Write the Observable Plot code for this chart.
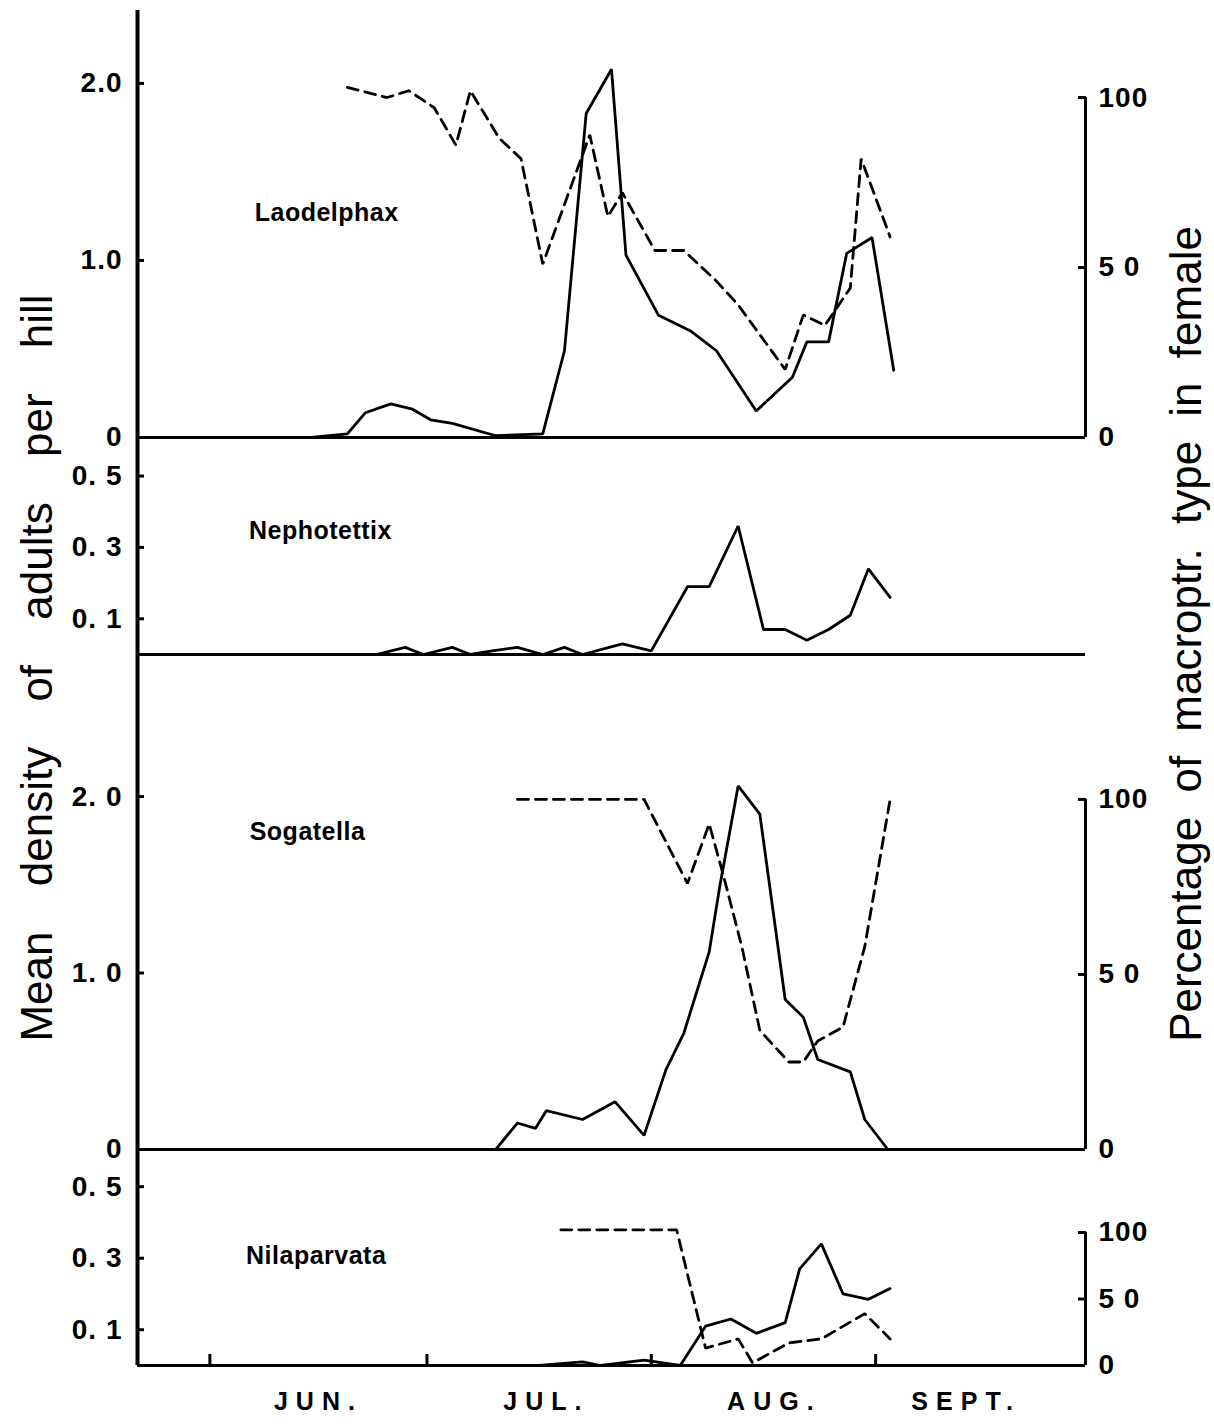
<!DOCTYPE html>
<html>
<head>
<meta charset="utf-8">
<script src="https://cdn.jsdelivr.net/npm/d3@7"></script>
<script src="https://cdn.jsdelivr.net/npm/@observablehq/plot@0.6"></script>
<style>
  html, body { margin: 0; padding: 0; background: #fff; overflow: hidden; }
  #fig { position: relative; width: 1214px; height: 1424px; background: #fff; }
  #fig svg { overflow: visible; }
  .panel g[aria-label="text"] text { letter-spacing: 0.5px; }
  .panel g[aria-label="y-axis tick label"] text { letter-spacing: 1px; }
  .panel g[aria-label="x-axis tick label"] text { letter-spacing: 8px; }
</style>
</head>
<body>
<div id="fig"></div>
<script>
// ---------------- DATA (x = days after 1 June) ----------------
// Laodelphax
const laoDays    = [-10, 14, 19, 21.5, 25, 28, 30.5, 33.5, 39.5, 46, 49, 52, 55.5, 57.5, 62, 66.5, 70, 75.5, 80.5, 82.5, 85.5, 88, 91.5, 94.5];
const laoDensity = [0, 0, 0.02, 0.14, 0.19, 0.16, 0.10, 0.08, 0.01, 0.02, 0.49, 1.83, 2.08, 1.03, 0.69, 0.60, 0.49, 0.15, 0.34, 0.54, 0.54, 1.04, 1.13, 0.38];
const laoPctDays = [19, 24.5, 27.5, 31, 34, 36, 40, 43, 46, 52.5, 55, 57, 61.5, 65.5, 70, 73, 79.5, 82, 85, 88.5, 90, 94];
const laoPct     = [103, 100, 102, 97, 86, 102, 88, 82, 51, 89, 65, 72, 55, 55, 46, 39, 20, 36, 33, 44, 82, 59];
// Nephotettix
const nepDays    = [-10, 23, 27, 29.5, 33.5, 36, 39, 42.5, 46, 49, 51.5, 57, 61, 66, 69, 73, 76.5, 79.5, 82.5, 85.5, 88.5, 91, 94];
const nepDensity = [0, 0, 0.02, 0, 0.02, 0, 0.01, 0.02, 0, 0.02, 0, 0.03, 0.01, 0.19, 0.19, 0.36, 0.07, 0.07, 0.04, 0.07, 0.11, 0.24, 0.16];
// Sogatella
const sogDays    = [-10, 39.5, 42.5, 45, 46.5, 51.5, 56, 60, 63, 65.5, 69, 70.5, 73, 76, 79.5, 82, 84, 88.5, 90.5, 93.5];
const sogDensity = [0, 0, 0.15, 0.12, 0.22, 0.17, 0.27, 0.08, 0.45, 0.66, 1.12, 1.50, 2.06, 1.90, 0.85, 0.75, 0.51, 0.44, 0.17, 0.01];
const sogPctDays = [42.5, 60, 66, 69, 71, 73.5, 76, 80, 82, 84, 87.5, 90.5, 94];
const sogPct     = [100, 100, 76, 93, 78, 58, 34, 25, 25, 31, 35, 58, 100];
// Nilaparvata
const nilDays    = [45.5, 48.5, 51.5, 54, 60, 65, 68.5, 72, 75.5, 79.5, 81.5, 84.5, 87.5, 91, 94];
const nilDensity = [0, 0.005, 0.01, 0, 0.015, 0, 0.11, 0.13, 0.09, 0.12, 0.27, 0.34, 0.20, 0.185, 0.215];
const nilPctDays = [48.5, 64.5, 68.5, 73, 75, 80, 84.5, 90.5, 94];
const nilPct     = [102, 102, 13, 20, 2, 17, 20, 39, 20];

// tick values and labels
const laoTicks = [0, 1, 2];          const laoTickLabels = ["0", "1.0", "2.0"];
const nepTicks = [0.1, 0.3, 0.5];    const nepTickLabels = ["0. 1", "0. 3", "0. 5"];
const sogTicks = [0, 1, 2];          const sogTickLabels = ["0", "1. 0", "2. 0"];
const nilTicks = [0.1, 0.3, 0.5];    const nilTickLabels = ["0. 1", "0. 3", "0. 5"];
const pctTicks = [0, 50, 100];       const pctTickLabels = ["0", "5 0", "100"];
const monthStarts = [0, 30, 61, 92];
const monthLabelDays = [15, 46.5, 78, 104.5];
const monthLabels = ["JUN.", "JUL.", "AUG.", "SEPT."];
const speciesNames = ["Laodelphax", "Nephotettix", "Sogatella", "Nilaparvata"];
const leftTitle = "Mean density of adults per hill";
const rightTitle = "Percentage of macroptr. type in female";

// ---------------- LAYOUT ----------------
const FONT = '"Liberation Sans", Arial, sans-serif';
const W = 1214, XL = 137, XR = 1085, PAD = 40;
const X_DOMAIN = [-10, 121];
const fig = document.getElementById("fig");

const rows = (xs, ys) => xs.map((d, i) => ({d, v: ys[i]}));
const fmtOf = (ticks, labels) => { const m = new Map(ticks.map((t, i) => [t, labels[i]])); return d => m.get(d); };

function mount(svg, top) {
  const holder = document.createElement("div");
  holder.style.cssText = `position:absolute;left:0;top:${top - PAD}px;width:${W}px;`;
  holder.append(svg);
  fig.append(holder);
}

function plotPanel(top, bottom, yMax, marks, xAxis = false) {
  const svg = Plot.plot({
    width: W, height: bottom - top + 2 * PAD,
    marginLeft: XL, marginRight: W - XR, marginTop: PAD, marginBottom: PAD,
    x: Object.assign({domain: X_DOMAIN, label: null}, xAxis ? {} : {axis: null}),
    y: {domain: [0, yMax], label: null},
    className: "panel",
    style: {background: "transparent", overflow: "visible", color: "black"},
    marks
  });
  mount(svg, top);
}

function leftMarks(ticks, labels, series, labelPos) {
  return [
    Plot.ruleY([0], {strokeWidth: 3}),
    Plot.ruleX([X_DOMAIN[0]], {strokeWidth: 4}),
    Plot.axisY(ticks.filter(t => t > 0), {anchor: "left", tickSize: -7, strokeWidth: 3, tickFormat: () => "", label: null}),
    Plot.axisY(ticks, {anchor: "left", tickSize: 0, tickPadding: 15, tickFormat: fmtOf(ticks, labels),
      fontSize: 28, fontWeight: "bold", fontFamily: FONT, label: null}),
    Plot.line(series, {x: "d", y: "v", stroke: "black", strokeWidth: 2.8, strokeLinejoin: "miter"}),
    Plot.text([labelPos], {x: "d", y: "v", text: "name", textAnchor: "start", fontSize: 25, fontWeight: "bold", fontFamily: FONT})
  ];
}

function rightMarks(series) {
  return [
    Plot.ruleX([X_DOMAIN[1]], {y1: 0, y2: 100, strokeWidth: 3}),
    Plot.axisY([50, 100], {anchor: "right", tickSize: -8, strokeWidth: 3, tickFormat: () => "", label: null}),
    Plot.axisY(pctTicks, {anchor: "right", tickSize: 0, tickPadding: 13, tickFormat: fmtOf(pctTicks, pctTickLabels),
      fontSize: 28, fontWeight: "bold", fontFamily: FONT, label: null}),
    Plot.line(series, {x: "d", y: "v", stroke: "black", strokeWidth: 2.8, strokeDasharray: "11,7", strokeLinejoin: "miter"})
  ];
}

// Panel 1: Laodelphax (frame 10..437)
plotPanel(10, 437, 2.412, leftMarks(laoTicks, laoTickLabels, rows(laoDays, laoDensity), {name: speciesNames[0], d: 6.2, v: 1.27}));
plotPanel(10, 437, 125.6, rightMarks(rows(laoPctDays, laoPct)));
// Panel 2: Nephotettix (frame 437..654)
plotPanel(437, 654, 0.608, leftMarks(nepTicks, nepTickLabels, rows(nepDays, nepDensity), {name: speciesNames[1], d: 5.4, v: 0.345}));
// Panel 3: Sogatella (frame 654..1149)
plotPanel(654, 1149, 2.805, leftMarks(sogTicks, sogTickLabels, rows(sogDays, sogDensity), {name: speciesNames[2], d: 5.5, v: 1.80}));
plotPanel(654, 1149, 141.4, rightMarks(rows(sogPctDays, sogPct)));
// Panel 4: Nilaparvata (frame 1149..1365) with month axis
plotPanel(1149, 1365, 0.604, [
  ...leftMarks(nilTicks, nilTickLabels, rows(nilDays, nilDensity), {name: speciesNames[3], d: 5.0, v: 0.305}),
  Plot.axisX(monthStarts, {anchor: "bottom", tickSize: -11, strokeWidth: 3, tickFormat: () => "", label: null}),
  Plot.axisX(monthLabelDays, {anchor: "bottom", tickSize: 0, tickPadding: 27, tickFormat: fmtOf(monthLabelDays, monthLabels),
    fontSize: 25, fontWeight: "bold", fontFamily: FONT, label: null})
], true);
plotPanel(1149, 1365, 162.4, rightMarks(rows(nilPctDays, nilPct)));

// Rotated axis titles
const NS = "http://www.w3.org/2000/svg";
const tsvg = document.createElementNS(NS, "svg");
tsvg.setAttribute("width", W); tsvg.setAttribute("height", 1424);
tsvg.style.cssText = "position:absolute;left:0;top:0;";
function title(str, cx, cy, ws) {
  const t = document.createElementNS(NS, "text");
  t.setAttribute("transform", `translate(${cx},${cy}) rotate(-90)`);
  t.setAttribute("text-anchor", "middle");
  t.setAttribute("dominant-baseline", "central");
  t.setAttribute("font-family", '"Liberation Sans", Arial, sans-serif');
  t.setAttribute("font-size", 44);
  t.setAttribute("word-spacing", ws);
  t.textContent = str;
  tsvg.append(t);
}
title(leftTitle, 36, 668, 33);
title(rightTitle, 1185, 634, 12);
fig.append(tsvg);
</script>
</body>
</html>
